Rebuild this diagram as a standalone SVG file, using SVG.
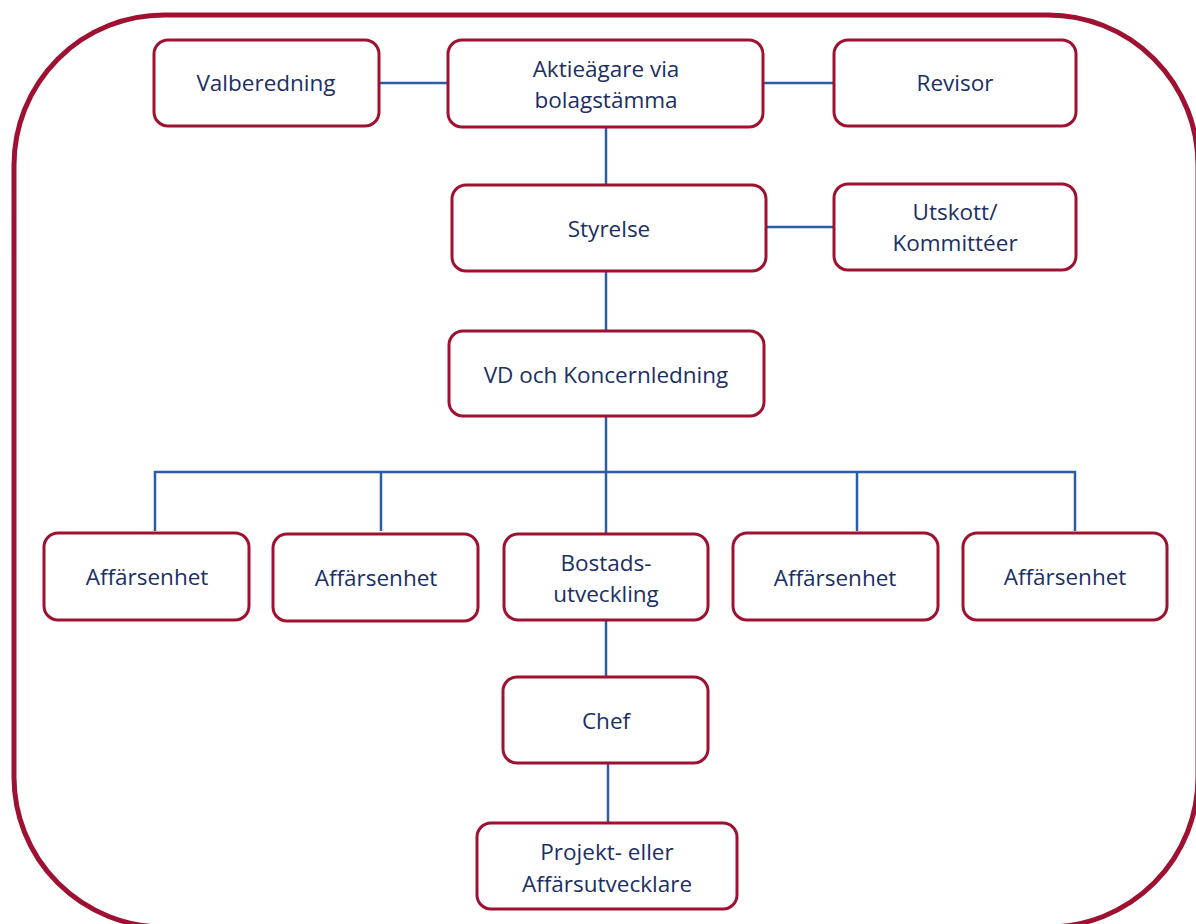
<svg xmlns="http://www.w3.org/2000/svg" width="1196" height="924" viewBox="0 0 1196 924">
<style>
.frame{fill:none;stroke:#9E1131;stroke-width:5}
.box{fill:#fff;stroke:#9E1131;stroke-width:3}
.c{fill:none;stroke:#2A5CA8;stroke-width:2.5}
text{font-family:"Open Sans","Noto Sans",sans-serif;font-size:22.5px;fill:#1B2F63;text-anchor:middle}
</style>
<rect width="1196" height="924" fill="#fff"/>
<rect class="frame" x="14" y="15" width="1184" height="912" rx="150" ry="150"/>
<g id="connectors">
<line class="c" x1="380" y1="83" x2="447" y2="83"/>
<line class="c" x1="764" y1="83" x2="833" y2="83"/>
<line class="c" x1="606" y1="128" x2="606" y2="184"/>
<line class="c" x1="767" y1="227" x2="833" y2="227"/>
<line class="c" x1="606" y1="272" x2="606" y2="330"/>
<line class="c" x1="606" y1="417" x2="606" y2="533"/>
<polyline class="c" points="155,531 155,472 1075,472 1075,531"/>
<line class="c" x1="381" y1="472" x2="381" y2="531"/>
<line class="c" x1="857" y1="472" x2="857" y2="531"/>
<line class="c" x1="606" y1="621" x2="606" y2="677"/>
<line class="c" x1="608" y1="764" x2="608" y2="823"/>
</g>
<g id="valberedning"><rect class="box" x="154" y="40" width="225" height="86" rx="14"/><text x="266" y="91">Valberedning</text></g>
<g id="aktieagare"><rect class="box" x="448" y="40" width="315" height="87" rx="14"/><text x="606" y="77">Aktieägare via</text><text x="606" y="108">bolagstämma</text></g>
<g id="revisor"><rect class="box" x="834" y="40" width="242" height="86" rx="14"/><text x="955" y="91">Revisor</text></g>
<g id="styrelse"><rect class="box" x="452" y="185" width="314" height="86" rx="14"/><text x="609" y="237">Styrelse</text></g>
<g id="utskott"><rect class="box" x="834" y="184" width="242" height="86" rx="14"/><text x="955" y="220">Utskott/</text><text x="955" y="251">Kommittéer</text></g>
<g id="vd"><rect class="box" x="449" y="331" width="315" height="85" rx="14"/><text x="606" y="383">VD och Koncernledning</text></g>
<g id="affarsenhet1"><rect class="box" x="44" y="533" width="205" height="87" rx="14"/><text x="147" y="585">Affärsenhet</text></g>
<g id="affarsenhet2"><rect class="box" x="273" y="534" width="205" height="87" rx="14"/><text x="376" y="586">Affärsenhet</text></g>
<g id="bostadsutveckling"><rect class="box" x="504" y="534" width="204" height="86" rx="14"/><text x="606" y="571">Bostads-</text><text x="606" y="602">utveckling</text></g>
<g id="affarsenhet3"><rect class="box" x="733" y="533" width="205" height="87" rx="14"/><text x="835" y="586">Affärsenhet</text></g>
<g id="affarsenhet4"><rect class="box" x="963" y="533" width="204" height="87" rx="14"/><text x="1065" y="585">Affärsenhet</text></g>
<g id="chef"><rect class="box" x="503" y="677" width="205" height="86" rx="14"/><text x="606" y="729">Chef</text></g>
<g id="projekt"><rect class="box" x="477" y="823" width="260" height="86" rx="14"/><text x="607" y="860">Projekt- eller</text><text x="607" y="892">Affärsutvecklare</text></g>
</svg>
